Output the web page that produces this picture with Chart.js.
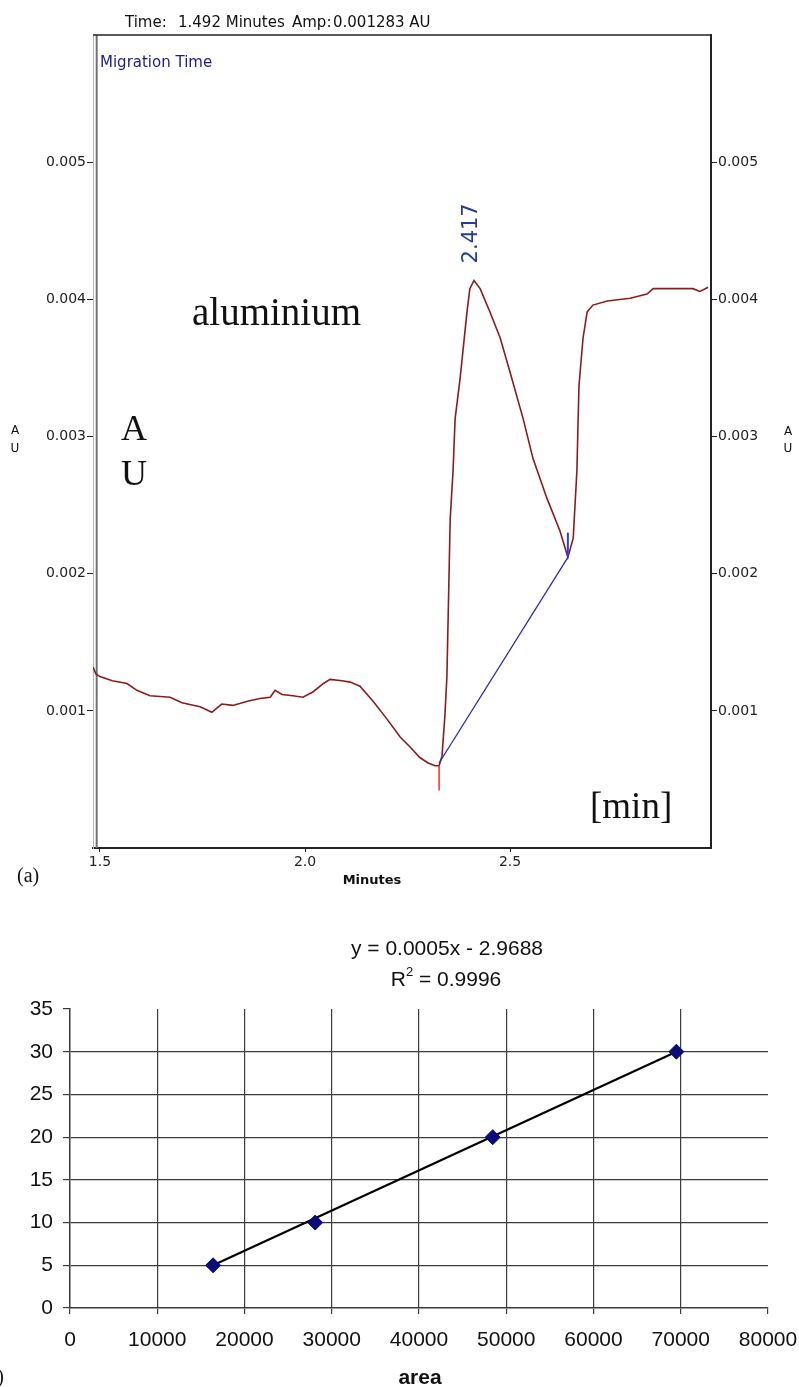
<!DOCTYPE html>
<html>
<head>
<meta charset="utf-8">
<script src="https://cdn.jsdelivr.net/npm/chart.js@4.4.1/dist/chart.umd.min.js"></script>
<style>
  html, body { margin: 0; padding: 0; background: #fff; }
  #wrap { position: relative; width: 799px; height: 1387px; overflow: hidden; }
  #topBox { position: absolute; left: 0; top: 0; width: 799px; height: 890px; }
  #botBox { position: absolute; left: 0; top: 890px; width: 799px; height: 497px; }
</style>
</head>
<body>
<div id="wrap">
  <div id="topBox"><canvas id="egram"></canvas></div>
  <div id="botBox"><canvas id="calib"></canvas></div>
</div>
<script>
// (a) electropherogram trace, minutes vs AU
const traceTime = [1.483, 1.490, 1.500, 1.530, 1.566, 1.590, 1.622, 1.671, 1.700, 1.744,
  1.773, 1.785, 1.797, 1.824, 1.860, 1.890, 1.915, 1.927, 1.944, 1.970,
  1.995, 2.020, 2.045, 2.061, 2.090, 2.110, 2.134, 2.166, 2.200, 2.232,
  2.255, 2.280, 2.300, 2.317, 2.327, 2.334, 2.341, 2.346, 2.350, 2.354,
  2.361, 2.366, 2.378, 2.395, 2.402, 2.412, 2.427, 2.451, 2.476, 2.500,
  2.532, 2.556, 2.590, 2.622, 2.641, 2.654, 2.663, 2.668, 2.678, 2.688,
  2.702, 2.737, 2.793, 2.834, 2.849, 2.946, 2.963, 2.983];
const traceAU = [0.00132, 0.00127, 0.00125, 0.00122, 0.00120, 0.00115, 0.00111, 0.00110, 0.00106, 0.00103,
  0.00099, 0.00102, 0.00105, 0.00104, 0.00107, 0.00109, 0.00110, 0.00115, 0.00112, 0.00111,
  0.00110, 0.00114, 0.00120, 0.00123, 0.00122, 0.00121, 0.00118, 0.00107, 0.00094, 0.00081,
  0.00074, 0.00066, 0.00062, 0.00060, 0.00060, 0.00067, 0.00096, 0.00125, 0.00182, 0.00240,
  0.00275, 0.00313, 0.00342, 0.00391, 0.00408, 0.00414, 0.00408, 0.00391, 0.00372, 0.00347,
  0.00313, 0.00284, 0.00255, 0.00231, 0.00212, 0.00226, 0.00275, 0.00337, 0.00372, 0.00391,
  0.00396, 0.00399, 0.00401, 0.00404, 0.00408, 0.00408, 0.00406, 0.00409];

// integration baseline and start / end markers
const baseTime = [2.327, 2.641];
const baseAU = [0.00062, 0.00212];
const startMarkTime = [2.327, 2.327];
const startMarkAU = [0.00060, 0.00042];
const endMarkTime = [2.641, 2.641];
const endMarkAU = [0.00212, 0.00230];
const cursorTime = [1.492, 1.492];
const cursorAU = [0, 0.00593];
const peakLabel = '2.417';

const minuteTicks = [1.5, 2.0, 2.5];
const auTicks = [0.001, 0.002, 0.003, 0.004, 0.005];

// (b) calibration
const stdArea = [16400, 28100, 48450, 69500];
const stdConc = [5, 10, 20, 30];
const fitArea = [16400, 69500];
const fitConc = [5, 30];
const areaTicks = [0, 10000, 20000, 30000, 40000, 50000, 60000, 70000, 80000];
const concTicks = [0, 5, 10, 15, 20, 25, 30, 35];

const pts = (xs, ys) => xs.map((v, i) => ({ x: v, y: ys[i] }));
const SANS = '"DejaVu Sans", sans-serif';
const SERIF = '"Liberation Serif", "Times New Roman", serif';
const ARIAL = '"Liberation Sans", Arial, sans-serif';

const egramNotes = {
  id: 'egramNotes',
  afterDraw(chart) {
    const { ctx, chartArea: a } = chart;
    const xs = chart.scales.x, ys = chart.scales.y;
    ctx.save();
    ctx.strokeStyle = '#222';
    ctx.lineWidth = 1.5;
    ctx.beginPath();
    ctx.moveTo(a.left, a.top);
    ctx.lineTo(a.right, a.top);
    ctx.stroke();

    ctx.fillStyle = '#111';
    ctx.font = '15px ' + SANS;
    ctx.textBaseline = 'alphabetic';
    ctx.textAlign = 'left';
    ctx.fillText('Time:', 125, 27);
    ctx.fillText('1.492 Minutes', 178, 27);
    ctx.fillText('Amp:', 292, 27);
    ctx.fillText('0.001283 AU', 333, 27);

    ctx.fillStyle = '#1c1c8a';
    ctx.fillText('Migration Time', 100, 67);

    // peak label
    const iPeak = traceAU.indexOf(Math.max(...traceAU));
    const px = xs.getPixelForValue(traceTime[iPeak]) - 2;
    const py = ys.getPixelForValue(traceAU[iPeak]) - 17;
    ctx.save();
    ctx.translate(px, py);
    ctx.rotate(-Math.PI / 2);
    ctx.fillStyle = '#2a3a9c';
    ctx.font = '21px ' + SANS;
    ctx.textBaseline = 'middle';
    ctx.fillText(peakLabel, 0, 0);
    ctx.restore();

    ctx.fillStyle = '#111';
    ctx.font = '39px ' + SERIF;
    ctx.fillText('aluminium', 192, 325);
    ctx.font = '37px ' + SERIF;
    ctx.fillText('[min]', 590, 818);
    ctx.textAlign = 'center';
    ctx.font = '36px ' + SERIF;
    ctx.fillText('A', 134, 440);
    ctx.fillText('U', 134, 485);

    ctx.textAlign = 'left';
    ctx.font = '20px ' + SERIF;
    ctx.fillText('(a)', 17, 882);

    ctx.textAlign = 'center';
    ctx.textBaseline = 'middle';
    ctx.font = 'bold 13px ' + SANS;
    ctx.fillText('Minutes', 372, 881);

    ctx.font = '12px ' + SANS;
    ctx.fillText('A', 15, 431);
    ctx.fillText('U', 15, 449);
    ctx.fillText('A', 788, 432);
    ctx.fillText('U', 788, 449);
    ctx.restore();
  }
};

const auAxis = (pos, width, borderColor, borderWidth) => ({
  type: 'linear',
  position: pos,
  min: 0,
  max: 0.00593,
  afterBuildTicks: s => { s.ticks = auTicks.map(v => ({ value: v })); },
  afterFit: s => { s.width = width; },
  grid: { drawOnChartArea: false, drawTicks: true, tickLength: 6, color: '#222' },
  border: { display: true, color: borderColor, width: borderWidth },
  ticks: { padding: 1, color: '#222', font: { family: SANS, size: 14 }, callback: v => v.toFixed(3) }
});

new Chart(document.getElementById('egram'), {
  type: 'line',
  data: {
    datasets: [
      { data: pts(startMarkTime, startMarkAU), borderColor: '#ff2a2a', borderWidth: 1.5 },
      { data: pts(endMarkTime, endMarkAU), borderColor: '#2040ff', borderWidth: 2 },
      { data: pts(baseTime, baseAU), borderColor: '#2b2ba8', borderWidth: 1.3 },
      { data: pts(traceTime, traceAU), borderColor: '#8b1c1c', borderWidth: 1.6 },
      { data: pts(cursorTime, cursorAU), borderColor: '#707070', borderWidth: 2 }
    ]
  },
  options: {
    responsive: true,
    maintainAspectRatio: false,
    animation: false,
    parsing: false,
    elements: { point: { radius: 0 }, line: { tension: 0 } },
    layout: { padding: { top: 35, left: 0, right: 0, bottom: 0 } },
    plugins: { legend: { display: false }, tooltip: { enabled: false } },
    scales: {
      x: {
        type: 'linear',
        min: 1.483,
        max: 2.99,
        afterBuildTicks: s => { s.ticks = minuteTicks.map(v => ({ value: v })); },
        afterFit: s => { s.height = 42; },
        grid: { drawOnChartArea: false, drawTicks: true, tickLength: 4, color: '#222' },
        border: { display: true, color: '#222', width: 2 },
        ticks: { padding: 2, maxRotation: 0, color: '#222', font: { family: SANS, size: 14 }, callback: v => v.toFixed(1) }
      },
      y: auAxis('left', 93, '#b5b5b5', 1),
      y2: auAxis('right', 88, '#222', 2)
    }
  },
  plugins: [egramNotes]
});

const calibNotes = {
  id: 'calibNotes',
  afterDraw(chart) {
    const { ctx } = chart;
    ctx.save();
    ctx.fillStyle = '#111';
    ctx.textBaseline = 'middle';
    ctx.textAlign = 'center';
    ctx.font = '21px ' + ARIAL;
    ctx.fillText('y = 0.0005x - 2.9688', 447, 59);

    // R² line with superscript
    const a = 'R', b = '2', c = ' = 0.9996';
    const wa = ctx.measureText(a).width, wc = ctx.measureText(c).width;
    ctx.font = '13px ' + ARIAL;
    const wb = ctx.measureText(b).width;
    let x0 = 446 - (wa + wb + wc) / 2;
    ctx.textAlign = 'left';
    ctx.font = '21px ' + ARIAL;
    ctx.fillText(a, x0, 90);
    ctx.font = '13px ' + ARIAL;
    ctx.fillText(b, x0 + wa, 82);
    ctx.font = '21px ' + ARIAL;
    ctx.fillText(c, x0 + wa + wb, 90);

    ctx.textAlign = 'center';
    ctx.font = 'bold 21px ' + ARIAL;
    ctx.fillText('area', 420, 488);

    ctx.textAlign = 'right';
    ctx.font = '20px ' + SERIF;
    ctx.fillText('(b)', 4, 488);
    ctx.restore();
  }
};

const GRID = '#3c3c3c';

new Chart(document.getElementById('calib'), {
  type: 'scatter',
  data: {
    datasets: [
      {
        data: pts(stdArea, stdConc),
        pointStyle: 'rectRot',
        pointRadius: 7.5,
        backgroundColor: '#0c0c78',
        borderColor: '#0c0c78',
        borderWidth: 1
      },
      {
        type: 'line',
        data: pts(fitArea, fitConc),
        borderColor: '#000',
        borderWidth: 2.2,
        pointRadius: 0,
        tension: 0
      }
    ]
  },
  options: {
    responsive: true,
    maintainAspectRatio: false,
    animation: false,
    parsing: false,
    layout: { padding: { top: 119, left: 0, right: 31, bottom: 0 } },
    plugins: { legend: { display: false }, tooltip: { enabled: false } },
    scales: {
      x: {
        type: 'linear',
        min: 0,
        max: 80000,
        afterBuildTicks: s => { s.ticks = areaTicks.map(v => ({ value: v })); },
        afterFit: s => { s.height = 79; s.paddingLeft = 0; s.paddingRight = 0; },
        grid: {
          color: c => (c.tick && c.tick.value > 0 && c.tick.value < 80000) ? GRID : 'rgba(0,0,0,0)',
          tickColor: GRID,
          tickLength: 6,
          lineWidth: 1.2
        },
        border: { display: true, color: GRID, width: 1.5 },
        ticks: { padding: 14, maxRotation: 0, color: '#111', font: { family: ARIAL, size: 21 }, callback: v => String(v) }
      },
      y: {
        type: 'linear',
        min: 0,
        max: 35,
        afterBuildTicks: s => { s.ticks = concTicks.map(v => ({ value: v })); },
        afterFit: s => { s.width = 70; },
        grid: {
          color: c => (c.tick && c.tick.value > 0 && c.tick.value < 35) ? GRID : 'rgba(0,0,0,0)',
          tickColor: GRID,
          tickLength: 7,
          lineWidth: 1.2
        },
        border: { display: true, color: GRID, width: 1.5 },
        ticks: { padding: 10, color: '#111', font: { family: ARIAL, size: 21 } }
      }
    }
  },
  plugins: [calibNotes]
});
</script>
</body>
</html>
